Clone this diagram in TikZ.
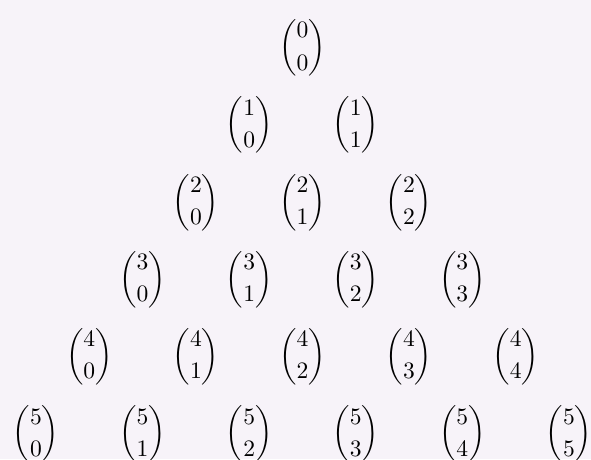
\documentclass[tikz,border=0pt]{standalone}
\usepackage{amsmath}
\definecolor{bgcolor}{RGB}{247,243,249}

\begin{document}
\begin{tikzpicture}[
x=1.67cm,y=-1.21cm,
every node/.style={inner sep=0pt,align=center,scale=1.05}
]
\clip (-2.838,-0.621) rectangle (2.707,5.324);
\fill[bgcolor] (-2.838,-0.621) rectangle (2.707,5.324);
\foreach \n in {0,...,5}
\foreach \k in {0,...,\n}
\node (b\n\k) at (\k-\n/2,\n) {$\dbinom{\n}{\k}$};
\end{tikzpicture}
\end{document}
